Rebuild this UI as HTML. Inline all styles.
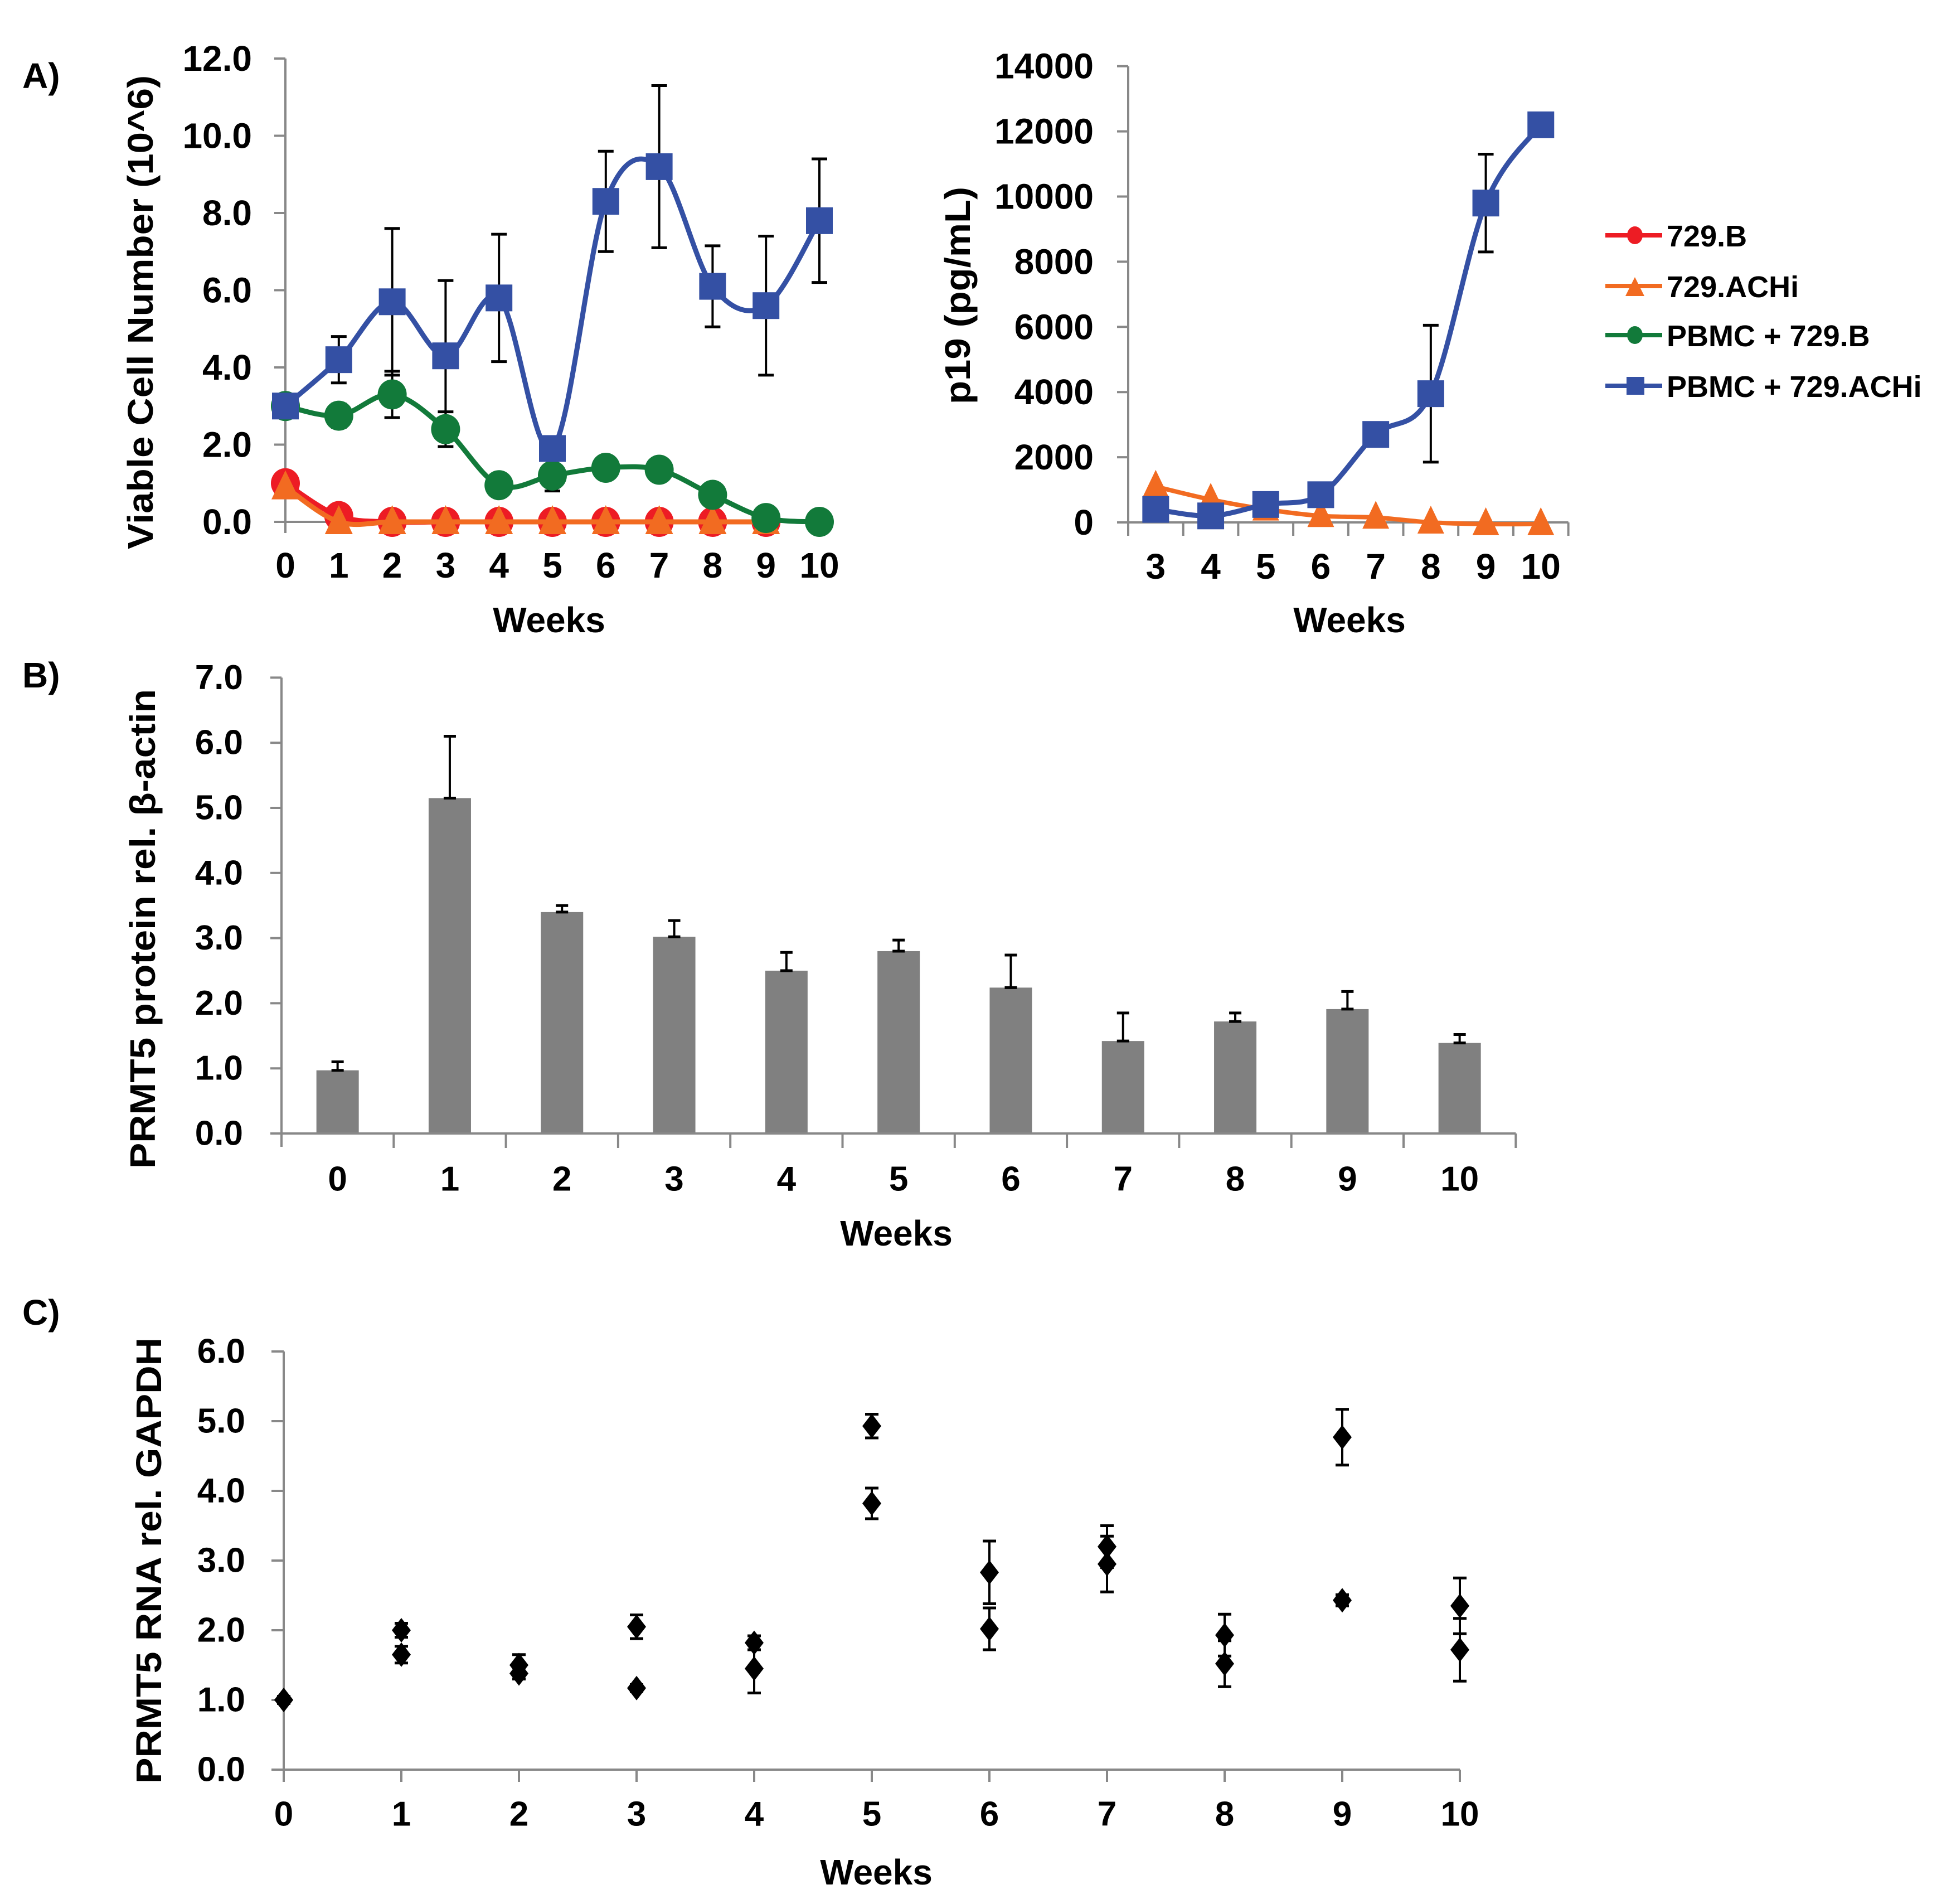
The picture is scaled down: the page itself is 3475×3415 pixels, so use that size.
<!DOCTYPE html>
<html><head><meta charset="utf-8"><style>
html,body{margin:0;padding:0;background:#fff;}
svg text{font-family:"Liberation Sans",Arial,sans-serif;font-weight:bold;fill:#000;}
</style></head><body>
<svg id="fig" xmlns="http://www.w3.org/2000/svg" width="3475" height="3410" viewBox="0 0 3475 3410">
<rect width="3475" height="3410" fill="#fff"/>
<text x="40" y="158" font-size="64">A)</text>
<text x="40" y="1233" font-size="64">B)</text>
<text x="40" y="2376" font-size="64">C)</text>
<g id="gA1"></g>
<g id="gA2"></g>
<g id="gLeg"></g>
<g id="gB"></g>
<g id="gC"></g>
</svg>
<script>
// ---- Panel A left data ----
const weeksA = [0,1,2,3,4,5,6,7,8,9,10];
const cellTicks = ["0.0","2.0","4.0","6.0","8.0","10.0","12.0"];
const red729B = [1.0,0.15,0,0,0,0,0,0,0,0,null];
const orange729ACHi = [0.9,0,0,0,0,0,0,0,0,0,null];
const greenPBMC729B = [3.0,2.75,3.3,2.4,0.95,1.2,1.4,1.35,0.7,0.1,0];
const greenErr = [0,0.3,0.6,0.45,0,0.4,0,0,0,0,0];
const bluePBMC729ACHi = [3.0,4.2,5.7,4.3,5.8,1.9,8.3,9.2,6.1,5.6,7.8];
const blueErr = [0,0.6,1.9,1.95,1.65,0,1.3,2.1,1.05,1.8,1.6];
// ---- Panel A right data ----
const weeksP19 = [3,4,5,6,7,8,9,10];
const p19Ticks = ["0","2000","4000","6000","8000","10000","12000","14000"];
const p19Blue = [400,200,550,850,2700,3950,9800,12200];
const p19BlueErr = [0,0,0,0,0,2100,1500,0];
const p19Orange = [1100,700,400,200,150,0,-50,-50];
// ---- Panel B data ----
const weeksB = [0,1,2,3,4,5,6,7,8,9,10];
const protTicks = ["0.0","1.0","2.0","3.0","4.0","5.0","6.0","7.0"];
const protein = [0.97,5.15,3.4,3.02,2.5,2.8,2.24,1.42,1.72,1.91,1.39];
const proteinErr = [0.13,0.95,0.1,0.25,0.28,0.17,0.5,0.43,0.13,0.27,0.13];
// ---- Panel C data ----
const weeksC = [0,1,2,3,4,5,6,7,8,9,10];
const rnaTicks = ["0.0","1.0","2.0","3.0","4.0","5.0","6.0"];
const rnaA = [1.0,2.0,1.5,2.05,1.82,4.93,2.83,3.2,1.93,4.77,2.35];
const rnaAErr = [0.05,0.1,0.15,0.17,0.1,0.17,0.45,0.3,0.3,0.4,0.4];
const rnaB = [1.0,1.65,1.38,1.17,1.45,3.82,2.02,2.95,1.52,2.43,1.72];
const rnaBErr = [0.05,0.12,0.08,0.05,0.35,0.22,0.3,0.4,0.33,0.08,0.45];

const NS="http://www.w3.org/2000/svg";
function mk(parent,tag,attrs){const e=document.createElementNS(NS,tag);for(const k in attrs)e.setAttribute(k,attrs[k]);parent.appendChild(e);return e;}
function txt(parent,x,y,s,size,anchor){const t=mk(parent,'text',{x:x,y:y,'font-size':size,'text-anchor':anchor||'middle','dominant-baseline':'central'});t.textContent=s;return t;}
function smooth(pts){
  let d='M'+pts[0][0]+','+pts[0][1];
  for(let i=0;i<pts.length-1;i++){
    const p0=pts[i-1]||pts[i],p1=pts[i],p2=pts[i+1],p3=pts[i+2]||p2;const t=1/6;
    d+=' C'+(p1[0]+(p2[0]-p0[0])*t)+','+(p1[1]+(p2[1]-p0[1])*t)+' '+(p2[0]-(p3[0]-p1[0])*t)+','+(p2[1]-(p3[1]-p1[1])*t)+' '+p2[0]+','+p2[1];
  }return d;}
function errBar(g,x,y1,y2,cap){
  const l=mk(g,'line',{x1:x,y1:y1,x2:x,y2:y2,stroke:'#000','stroke-width':4});
  
  mk(g,'line',{x1:x-cap,y1:y1,x2:x+cap,y2:y1,stroke:'#000','stroke-width':5});
  mk(g,'line',{x1:x-cap,y1:y2,x2:x+cap,y2:y2,stroke:'#000','stroke-width':5});}
const AX='#888';

// ===== Panel A left =====
(function(){
  const g=document.getElementById('gA1');
  const x0=512,dx=95.8,y0=936,ppu=138.5/2;
  const X=i=>x0+i*dx, Y=v=>y0-v*ppu;
  mk(g,'line',{x1:x0,y1:Y(12),x2:x0,y2:y0+20,stroke:AX,'stroke-width':4});
  mk(g,'line',{x1:x0-20,y1:y0,x2:X(10)+10,y2:y0,stroke:AX,'stroke-width':4});
  cellTicks.forEach((s,i)=>{const v=i*2;mk(g,'line',{x1:x0-20,y1:Y(v),x2:x0,y2:Y(v),stroke:AX,'stroke-width':4});
    const t=txt(g,452,Y(v),s,64,'end');});
  weeksA.forEach((w,i)=>{const t=txt(g,X(i),1014,String(w),64);});
  const wt=txt(g,985,1112,'Weeks',64);
  const yt=txt(g,0,0,'Viable Cell Number (10^6)',64);yt.setAttribute('transform','translate(252,560) rotate(-90)');yt.setAttribute('textLength','850');yt.setAttribute('lengthAdjust','spacingAndGlyphs');
  
  function series(vals,color,name,marker){
    const pts=[];vals.forEach((v,i)=>{if(v!==null)pts.push([X(i),Y(v)]);});
    const p=mk(g,'path',{d:smooth(pts),fill:'none',stroke:color,'stroke-width':9,'stroke-linejoin':'round'});
    
    pts.forEach(q=>{let m;
      if(marker==='c')m=mk(g,'ellipse',{cx:q[0],cy:q[1],rx:26,ry:27,fill:color});
      else if(marker==='s')m=mk(g,'rect',{x:q[0]-24,y:q[1]-24,width:48,height:48,fill:color});
      else m=mk(g,'polygon',{points:(q[0])+','+(q[1]-30)+' '+(q[0]-25)+','+(q[1]+22)+' '+(q[0]+25)+','+(q[1]+22),fill:color});
      });
    return pts;}
  greenPBMC729B.forEach((v,i)=>{if(greenErr[i])errBar(g,X(i),Y(v+greenErr[i]),Y(v-greenErr[i]),14);});
  blueErr.forEach((e,i)=>{if(e)errBar(g,X(i),Y(bluePBMC729ACHi[i]+e),Y(bluePBMC729ACHi[i]-e),14);});
  series(red729B,'#ed1c24','729b','c');
  series(orange729ACHi,'#f26b21','729achi','t');
  series(greenPBMC729B,'#127a3a','pbmc-729b','c');
  series(bluePBMC729ACHi,'#3450a4','pbmc-729achi','s');
})();

// ===== Panel A right =====
(function(){
  const g=document.getElementById('gA2');
  const x0=2024,cw=98.7,y0=937,ppu=116.9/2000;
  const X=i=>x0+(i+0.5)*cw, Y=v=>y0-v*ppu;
  mk(g,'line',{x1:x0,y1:Y(14000),x2:x0,y2:y0+24,stroke:AX,'stroke-width':4});
  mk(g,'line',{x1:x0-20,y1:y0,x2:x0+8*cw,y2:y0,stroke:AX,'stroke-width':4});
  for(let i=1;i<=8;i++)mk(g,'line',{x1:x0+i*cw,y1:y0,x2:x0+i*cw,y2:y0+24,stroke:AX,'stroke-width':4});
  p19Ticks.forEach((s,i)=>{const v=i*2000;mk(g,'line',{x1:x0-20,y1:Y(v),x2:x0,y2:Y(v),stroke:AX,'stroke-width':4});
    const t=txt(g,1962,Y(v),s,64,'end');});
  weeksP19.forEach((w,i)=>{const t=txt(g,X(i),1016,String(w),64);});
  const wt=txt(g,2421,1112,'Weeks',64);
  const yt=txt(g,0,0,'p19 (pg/mL)',64);yt.setAttribute('transform','translate(1718,530) rotate(-90)');yt.setAttribute('textLength','390');yt.setAttribute('lengthAdjust','spacingAndGlyphs');
  
  p19BlueErr.forEach((e,i)=>{if(e)errBar(g,X(i),Y(p19Blue[i]+e),Y(p19Blue[i]-e),14);});
  const op=p19Orange.map((v,i)=>[X(i),Y(v)]);
  const o=mk(g,'path',{d:smooth(op),fill:'none',stroke:'#f26b21','stroke-width':8});
  
  op.forEach(q=>{const m=mk(g,'polygon',{points:q[0]+','+(q[1]-30)+' '+(q[0]-24)+','+(q[1]+20)+' '+(q[0]+24)+','+(q[1]+20),fill:'#f26b21'});
    });
  const bp=p19Blue.map((v,i)=>[X(i),Y(v)]);
  const b=mk(g,'path',{d:smooth(bp),fill:'none',stroke:'#3450a4','stroke-width':9});
  
  bp.forEach(q=>{const m=mk(g,'rect',{x:q[0]-24,y:q[1]-24,width:48,height:48,fill:'#3450a4'});
    });
})();

// ===== Legend =====
(function(){
  const g=document.getElementById('gLeg');
  const labels=['729.B','729.ACHi','PBMC + 729.B','PBMC + 729.ACHi'];
  const colors=['#ed1c24','#f26b21','#127a3a','#3450a4'];
  const rows=[422,513,601,692];
  labels.forEach((s,i)=>{const y=rows[i];
    const e=mk(g,'g',{});
    mk(e,'line',{x1:2880,y1:y,x2:2982,y2:y,stroke:colors[i],'stroke-width':8});
    if(i===3)mk(e,'rect',{x:2918,y:y-16,width:32,height:32,fill:colors[i]});
    else if(i===1)mk(e,'polygon',{points:'2933,'+(y-16)+' 2916,'+(y+18)+' 2950,'+(y+18),fill:colors[i]});
    else mk(e,'ellipse',{cx:2933,cy:y,rx:14,ry:16,fill:colors[i]});
    txt(e,2990,y+2,s,54,'start');});
})();

// ===== Panel B =====
(function(){
  const g=document.getElementById('gB');
  const x0=505,cw=201.3,y0=2033,ppu=116.8;
  const X=i=>x0+(i+0.5)*cw, Y=v=>y0-v*ppu;
  protTicks.forEach((s,i)=>{mk(g,'line',{x1:x0-20,y1:Y(i),x2:x0,y2:Y(i),stroke:AX,'stroke-width':4});
    const t=txt(g,436,Y(i),s,62,'end');});
  protein.forEach((v,i)=>{const r=mk(g,'rect',{x:X(i)-38,y:Y(v),width:76,height:v*ppu,fill:'#808080'});
    
    errBar(g,X(i),Y(v+proteinErr[i]),Y(v),11);});
  mk(g,'line',{x1:x0,y1:Y(7),x2:x0,y2:y0+24,stroke:AX,'stroke-width':4});
  mk(g,'line',{x1:x0-20,y1:y0,x2:x0+11*cw,y2:y0,stroke:AX,'stroke-width':4});
  for(let i=1;i<=11;i++)mk(g,'line',{x1:x0+i*cw,y1:y0,x2:x0+i*cw,y2:y0+26,stroke:AX,'stroke-width':4});
  weeksB.forEach((w,i)=>{const t=txt(g,X(i),2115,String(w),62);});
  const wt=txt(g,1608,2212,'Weeks',64);
  const yt=txt(g,0,0,'PRMT5 protein rel. \u03b2-actin',64);yt.setAttribute('transform','translate(256,1666) rotate(-90)');yt.setAttribute('textLength','860');yt.setAttribute('lengthAdjust','spacingAndGlyphs');
  
})();

// ===== Panel C =====
(function(){
  const g=document.getElementById('gC');
  const x0=509,dx=211,y0=3174,ppu=125;
  const X=i=>x0+i*dx, Y=v=>y0-v*ppu;
  rnaTicks.forEach((s,i)=>{mk(g,'line',{x1:x0-22,y1:Y(i),x2:x0,y2:Y(i),stroke:AX,'stroke-width':4});
    const t=txt(g,440,Y(i),s,62,'end');});
  mk(g,'line',{x1:x0,y1:Y(6),x2:x0,y2:y0+22,stroke:AX,'stroke-width':4});
  mk(g,'line',{x1:x0-22,y1:y0,x2:X(10),y2:y0,stroke:AX,'stroke-width':4});
  weeksC.forEach((w,i)=>{mk(g,'line',{x1:X(i),y1:y0,x2:X(i),y2:y0+22,stroke:AX,'stroke-width':4});
    const t=txt(g,X(i),3254,String(w),62);});
  const wt=txt(g,1572,3358,'Weeks',64);
  const yt=txt(g,0,0,'PRMT5 RNA rel. GAPDH',64);yt.setAttribute('transform','translate(267,2799) rotate(-90)');yt.setAttribute('textLength','800');yt.setAttribute('lengthAdjust','spacingAndGlyphs');
  
  function pts(vals,errs,name){vals.forEach((v,i)=>{
    errBar(g,X(i),Y(v+errs[i]),Y(v-errs[i]),12);
    const x=X(i),y=Y(v);const d=mk(g,'polygon',{points:x+','+(y-22)+' '+(x+17)+','+y+' '+x+','+(y+22)+' '+(x-17)+','+y,fill:'#000'});
    });}
  pts(rnaA,rnaAErr,'rna-point-series-1');
  pts(rnaB,rnaBErr,'rna-point-series-2');
})();
</script>
</body></html>
